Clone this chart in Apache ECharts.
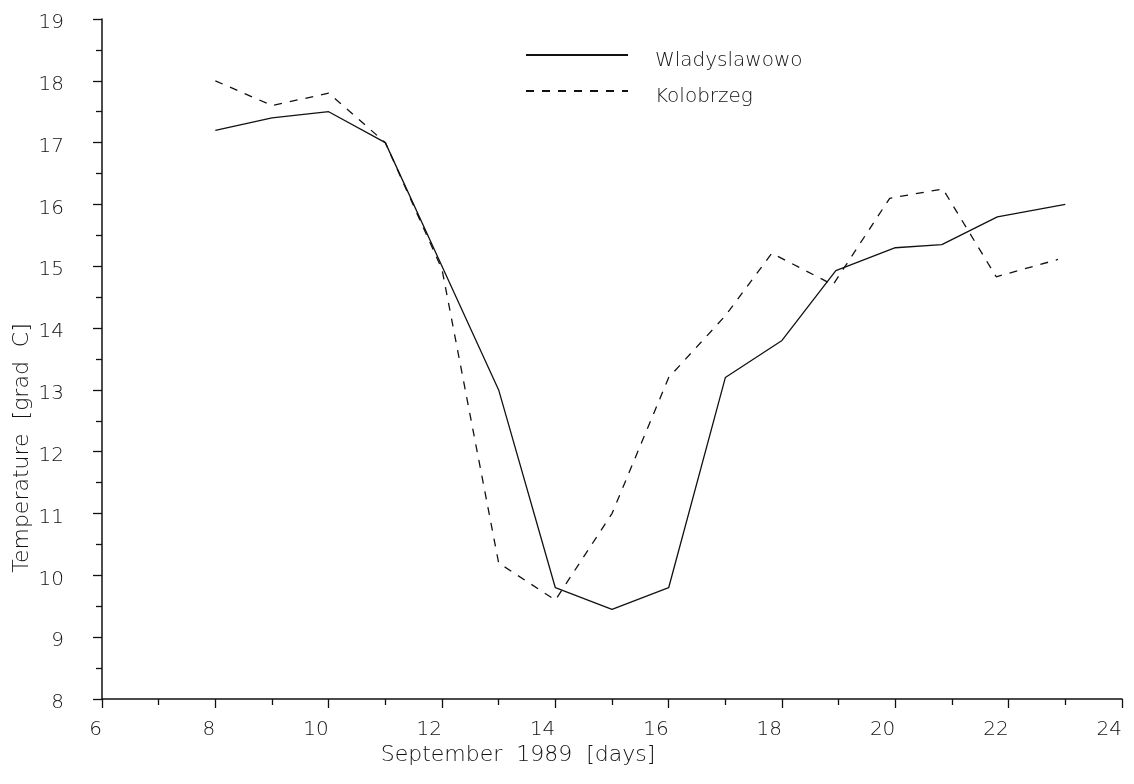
<!DOCTYPE html>
<html>
<head>
<meta charset="utf-8">
<script src="https://cdn.jsdelivr.net/npm/echarts@6/dist/echarts.min.js"></script>
<style>html,body{margin:0;padding:0;background:#fff}#c{width:1134px;height:784px}</style>
</head>
<body>
<div id="c"></div>
<script>
// Data (day of September 1989, temperature in grad C)
const wladDays  = [8, 9, 10, 11, 12, 13, 14, 15, 16, 17, 18, 18.95, 20, 20.82, 21.8, 23];
const wladTemps = [17.2, 17.4, 17.5, 17.0, 15.0, 13.0, 9.8, 9.45, 9.8, 13.2, 13.8, 14.93, 15.3, 15.35, 15.8, 16.0];
const kolDays   = [8, 9, 10, 11, 12, 13, 14, 15, 16, 17, 17.82, 18.9, 19.9, 20.84, 21.78, 22.87];
const kolTemps  = [18.0, 17.6, 17.8, 17.0, 14.95, 10.2, 9.6, 11.0, 13.2, 14.2, 15.21, 14.7, 16.1, 16.25, 14.83, 15.11];
const seriesNames = ['Wladyslawowo', 'Kolobrzeg'];
const xTitle = 'September  1989  [days]';
const yTitle = 'Temperature  [grad  C]';

const FONT = 'DejaVu Sans';
const INK = '#111';
const pairs = (xs, ys) => xs.map((x, i) => [x, ys[i]]);

const chart = echarts.init(document.getElementById('c'), null, {renderer: 'canvas'});
chart.setOption({
  animation: false,
  backgroundColor: '#fff',
  grid: {left: 102, right: 12, top: 19, bottom: 85, containLabel: false, outerBoundsMode: 'none'},
  legend: {
    orient: 'vertical', left: 520, top: 42,
    itemWidth: 102, itemHeight: 20, itemGap: 12,
    data: seriesNames,
    itemStyle: {opacity: 0},
    formatter: '{t|{name}}',
    textStyle: {
      fontFamily: FONT, fontSize: 20, fontWeight: 200, color: INK,
      rich: {t: {fontFamily: FONT, fontSize: 20, fontWeight: 200, color: INK, padding: [12, 0, 0, 22]}}
    }
  },
  xAxis: {
    type: 'value', min: 6, max: 24, interval: 2,
    name: xTitle, nameLocation: 'middle', nameGap: 45, nameMoveOverlap: false,
    nameTextStyle: {fontFamily: FONT, fontSize: 22, fontWeight: 200, color: INK, padding: [0, 188, 0, 0]},
    axisLine: {show: true, onZero: false, lineStyle: {color: INK, width: 1.5}},
    axisTick: {show: true, inside: false, length: 9, lineStyle: {color: INK, width: 1.3}},
    minorTick: {show: true, splitNumber: 2, length: 6, lineStyle: {color: INK, width: 1.3}},
    splitLine: {show: false},
    axisLabel: {fontFamily: FONT, fontSize: 20, fontWeight: 200, color: INK, margin: 21, align: 'right'}
  },
  yAxis: {
    type: 'value', min: 8, max: 19, interval: 1,
    name: yTitle, nameLocation: 'middle', nameGap: 69, nameRotate: 90, nameMoveOverlap: false,
    nameTextStyle: {fontFamily: FONT, fontSize: 22, fontWeight: 200, color: INK, padding: [0, 178, 0, 0]},
    axisLine: {show: true, onZero: false, lineStyle: {color: INK, width: 1.5}},
    axisTick: {show: true, inside: false, length: 9, lineStyle: {color: INK, width: 1.3}},
    minorTick: {show: true, splitNumber: 2, length: 6, lineStyle: {color: INK, width: 1.3}},
    splitLine: {show: false},
    axisLabel: {fontFamily: FONT, fontSize: 20, fontWeight: 200, color: INK, margin: 38,
      verticalAlign: 'top', lineHeight: 8}
  },
  series: [
    {
      name: seriesNames[0], type: 'line', data: pairs(wladDays, wladTemps),
      symbol: 'none', lineStyle: {color: INK, width: 1.3, type: 'solid'},
      itemStyle: {color: INK}
    },
    {
      name: seriesNames[1], type: 'line', data: pairs(kolDays, kolTemps),
      symbol: 'none', lineStyle: {color: INK, width: 1.3, type: [8, 8]},
      itemStyle: {color: INK}
    }
  ]
});
</script>
</body>
</html>
